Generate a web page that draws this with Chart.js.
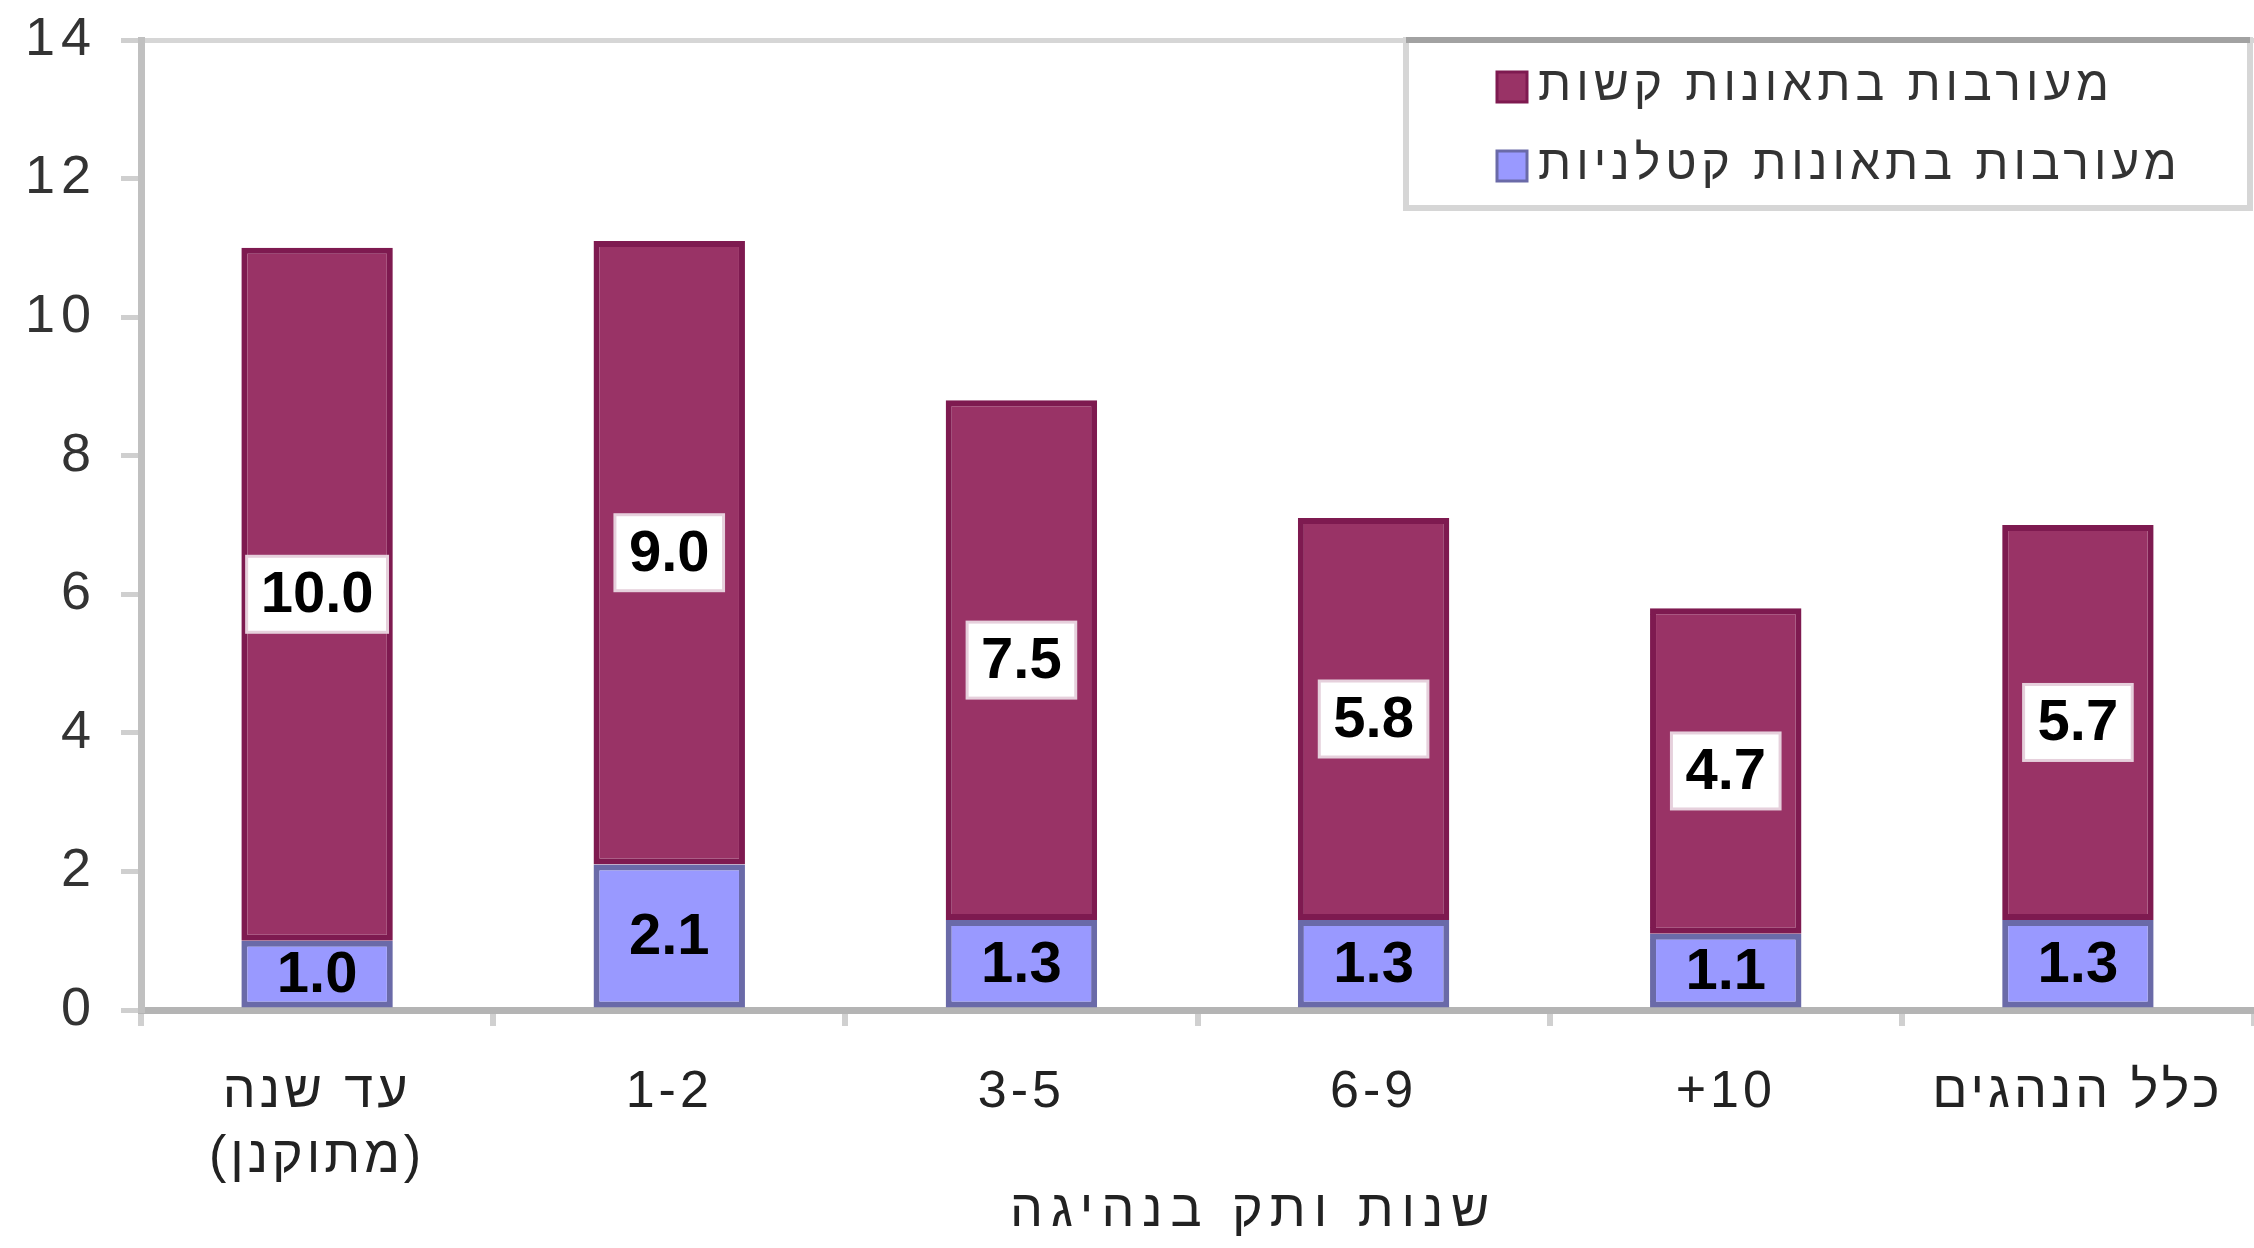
<!DOCTYPE html>
<html>
<head>
<meta charset="utf-8">
<script src="https://cdn.jsdelivr.net/npm/chart.js@4.4.1/dist/chart.umd.min.js"></script>
<style>
  html, body { margin: 0; padding: 0; background: #fff; overflow: hidden; }
  #wrap { width: 2254px; height: 1248px; }
</style>
</head>
<body>
<div id="wrap"><canvas id="chart" width="2254" height="1248"></canvas></div>
<script>
// Data
const categories = [['עד שנה', '(מתוקנן)'], '1-2', '3-5', '6-9', '+10', 'כלל הנהגים'];
const fatalValues = [1.0, 2.1, 1.3, 1.3, 1.1, 1.3];
const severeValues = [10.0, 9.0, 7.5, 5.8, 4.7, 5.7];
const fatalLabel = 'מעורבות בתאונות קטלניות';
const severeLabel = 'מעורבות בתאונות קשות';
const yTicks = [0, 2, 4, 6, 8, 10, 12, 14];
const xTitle = 'שנות ותק בנהיגה';

const FONT = '"Liberation Sans", Arial, sans-serif';

// the old picture has wide, blocky lettering: widen axis text a bit
const spacedText = {
  id: 'spacedText',
  beforeDraw(chart) {
    const ctx = chart.ctx;
    [['x', 4, 8], ['y', 6, 0]].forEach(([id, labelGap, titleGap]) => {
      const s = chart.scales[id];
      if (s._spaced) return;
      s._spaced = true;
      const drawLabels = s.drawLabels.bind(s);
      const drawTitle = s.drawTitle.bind(s);
      s.drawLabels = (area) => { ctx.letterSpacing = labelGap + 'px'; drawLabels(area); ctx.letterSpacing = '0px'; };
      s.drawTitle = () => { ctx.letterSpacing = titleGap + 'px'; drawTitle(); ctx.letterSpacing = '0px'; };
    });
  }
};

// Value labels in the middle of each segment; the upper series gets a white box
const segmentLabels = {
  id: 'segmentLabels',
  afterDatasetsDraw(chart) {
    const ctx = chart.ctx;
    ctx.save();
    ctx.font = `bold 58px ${FONT}`;
    ctx.textAlign = 'center';
    ctx.textBaseline = 'middle';
    chart.data.datasets.forEach((ds, di) => {
      const meta = chart.getDatasetMeta(di);
      meta.data.forEach((bar, i) => {
        const txt = ds.data[i].toFixed(1);
        const cy = (bar.y + bar.base) / 2;
        if (ds.boxed) {
          const w = ctx.measureText(txt).width + 28;
          const h = 76;
          ctx.fillStyle = '#fff';
          ctx.fillRect(bar.x - w / 2, cy - h / 2, w, h);
          ctx.strokeStyle = '#e6d0dc';
          ctx.lineWidth = 3;
          ctx.strokeRect(bar.x - w / 2, cy - h / 2, w, h);
        }
        ctx.fillStyle = '#000';
        ctx.fillText(txt, bar.x, cy + 2);
      });
    });
    ctx.restore();
  }
};

// Boxed legend in the top right of the plot
const boxLegend = {
  id: 'boxLegend',
  afterDraw(chart) {
    const ctx = chart.ctx;
    const x0 = 1406, y0 = 40, w = 844, h = 168;
    ctx.save();
    ctx.fillStyle = '#fff';
    ctx.fillRect(x0, y0, w, h);
    ctx.strokeStyle = '#d6d6d6';
    ctx.lineWidth = 6;
    ctx.strokeRect(x0, y0, w, h);
    ctx.strokeStyle = '#a2a2a2';
    ctx.beginPath();
    ctx.moveTo(x0, y0);
    ctx.lineTo(x0 + w, y0);
    ctx.stroke();

    const items = chart.data.datasets.slice().reverse();
    ctx.font = `48px ${FONT}`;
    ctx.letterSpacing = '5px';
    ctx.textBaseline = 'middle';
    ctx.textAlign = 'left';
    items.forEach((ds, i) => {
      const cy = 87 + i * 79;
      ctx.fillStyle = ds.backgroundColor;
      ctx.fillRect(1497, cy - 15, 30, 30);
      ctx.strokeStyle = ds.borderColor;
      ctx.lineWidth = 3;
      ctx.strokeRect(1497, cy - 15, 30, 30);
      ctx.fillStyle = '#333';
      ctx.fillText(ds.label, 1538, cy);
    });
    ctx.restore();
  }
};

new Chart(document.getElementById('chart'), {
  type: 'bar',
  data: {
    labels: categories,
    datasets: [
      {
        label: fatalLabel,
        data: fatalValues,
        backgroundColor: '#9999ff',
        borderColor: '#6a6aa8',
        borderWidth: 6,
        borderSkipped: false,
        boxed: false,
      },
      {
        label: severeLabel,
        data: severeValues,
        backgroundColor: '#993366',
        borderColor: '#7e1a50',
        borderWidth: 6,
        borderSkipped: false,
        boxed: true,
      },
    ],
  },
  options: {
    responsive: false,
    devicePixelRatio: 1,
    animation: false,
    layout: { padding: { top: 40, right: 0, bottom: 0, left: 0 } },
    datasets: { bar: { barPercentage: 0.43, categoryPercentage: 1 } },
    plugins: { legend: { display: false }, tooltip: { enabled: false } },
    scales: {
      x: {
        stacked: true,
        afterFit: s => { s.height = 238; s.paddingLeft = 0; s.paddingRight = 0; },
        border: { color: '#b4b4b4', width: 7 },
        grid: { drawOnChartArea: false, offset: true, tickLength: 16, tickColor: '#d0d0d0', lineWidth: 6 },
        ticks: {
          color: '#222',
          padding: 34,
          maxRotation: 0,
          autoSkip: false,
          font: { family: FONT, size: 52, lineHeight: 1.25 },
        },
        title: {
          display: true,
          text: '     ' + xTitle,
          color: '#222',
          padding: { top: 0, bottom: 5 },
          font: { family: FONT, size: 52, lineHeight: 1.2 },
        },
      },
      y: {
        stacked: true,
        min: 0,
        max: 14,
        afterFit: s => { s.width = 141; s.paddingTop = 0; s.paddingBottom = 0; },
        afterBuildTicks: s => { s.ticks = yTicks.map(v => ({ value: v })); },
        border: { color: '#c0c0c0', width: 7 },
        grid: {
          color: c => (c.tick && c.tick.value === 14 ? '#d6d6d6' : 'rgba(0,0,0,0)'),
          lineWidth: 5,
          tickColor: '#cfcfcf',
          tickLength: 20,
        },
        ticks: {
          color: '#333',
          padding: 24,
          font: { family: FONT, size: 54 },
        },
      },
    },
  },
  plugins: [spacedText, segmentLabels, boxLegend],
});
</script>
</body>
</html>
